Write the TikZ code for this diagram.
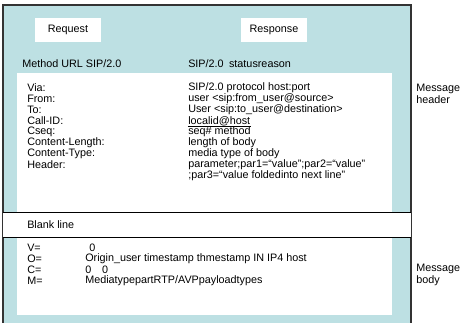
\documentclass[tikz,border=0pt]{standalone}
\usepackage{fontspec}
\setmainfont{Liberation Sans}
\usetikzlibrary{positioning}

\definecolor{panelblue}{RGB}{189,224,227}

\tikzset{
  field/.style={anchor=west, inner sep=0pt, font=\fontsize{8.1}{9.5}\selectfont},
  tabbox/.style={fill=white, inner sep=0pt, minimum width=49.5pt, minimum height=18pt, font=\fontsize{8.1}{9.5}\selectfont}
}

\begin{document}
\begin{tikzpicture}[x=0.75pt, y=-0.75pt]
    \useasboundingbox (0,0) rectangle (462,323);

    % Outer panel (open at the bottom edge)
    \fill[panelblue] (3,5) rectangle (411,323);
    \draw[line width=1.2pt, black!80] (3,323) -- (3,5) -- (411,5) -- (411,323);

    % White areas: header, blank line band, body
    \fill[white] (17,73) rectangle (392,212);
    \fill[white] (3,212) rectangle (411,237);
    \fill[white] (17,237) rectangle (392,315);
    \draw[thin] (3,212) -- (411,212); % top of blank line
    \draw[thin] (3,237) -- (411,237); % bottom of blank line

    % Request / Response tabs
    \node[tabbox] (request) at (68,30) {Request};
    \node[tabbox] (response) at (274,30) {Response};

    % Start lines
    \node[field] (reqline) at (22,64) {Method URL SIP/2.0};
    \node[field] (resline) at (188,64) {SIP/2.0\enspace statusreason};

    % Header fields and their values
    \foreach \i/\fld/\val in {0/{Via:}/{SIP/2.0 protocol host:port},
                              1/{From:}/{user <sip:from\_user@source>},
                              2/{To:}/{User <sip:to\_user@destination>},
                              3/{Call-ID:}/{localid@host},
                              4/{Cseq:}/{seq\# method},
                              5/{Content-Length:}/{length of body},
                              6/{Content-Type:}/{media type of body},
                              7/{Header:}/{parameter;par1=“value”;par2=“value”}} {
        \node[field] (fld\i) at (27,88+11*\i) {\fld};
        \node[field] (val\i) at (188,88+11*\i) {\val};
    }
    \node[field] (val8) at (188,176) {;par3=“value foldedinto next line”};
    \draw[line width=0.5pt] ([yshift=-1.3pt]val3.base west) -- ([yshift=-1.3pt]val3.base east); % underline of call id

    % Blank line
    \node[field] (blank) at (27,225) {Blank line};

    % Body fields
    \foreach \i/\fld/\val in {0/{V=}/{\hspace{3pt}0},
                              1/{O=}/{Origin\_user timestamp thmestamp IN IP4 host},
                              2/{C=}/{0\quad 0},
                              3/{M=}/{MediatypepartRTP/AVPpayloadtypes}} {
        \node[field] (bfld\i) at (27,248+11*\i) {\fld};
        \node[field] (bval\i) at (85,248+11*\i) {\val};
    }

    % Side labels
    \node[field, align=left] (hdrlabel) at (416,94) {Message\\header};
    \node[field, align=left] (bodylabel) at (416,275) {Message\\body};
\end{tikzpicture}
\end{document}
